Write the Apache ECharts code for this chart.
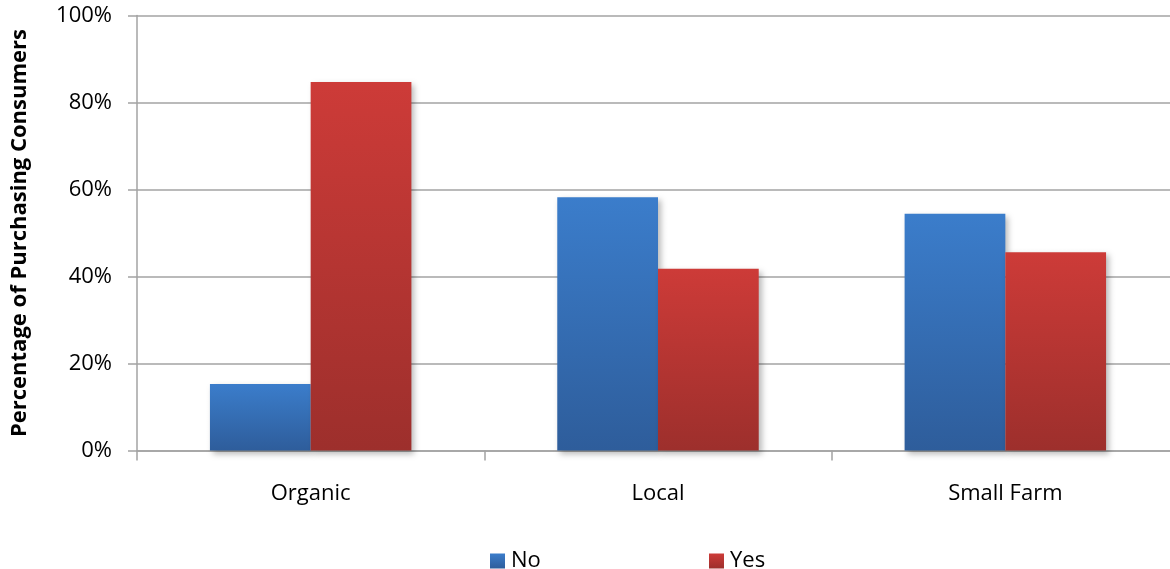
<!DOCTYPE html>
<html>
<head>
<meta charset="utf-8">
<script src="https://cdn.jsdelivr.net/npm/echarts@6/dist/echarts.min.js"></script>
<style>
  html, body { margin: 0; padding: 0; background: #fff; }
  #chart { width: 1170px; height: 569px; }
</style>
</head>
<body>
<div id="chart"></div>
<script>
// Share of purchasing consumers by label type
const categories = ['Organic', 'Local', 'Small Farm'];
const noValues = [15.3, 58.2, 54.4];
const yesValues = [84.7, 41.8, 45.6];
const seriesNames = ['No', 'Yes'];

const FONT = '"Open Sans", sans-serif';
const GRID_GREY = '#a3a3a3';

function vGrad(top, bottom) {
  return new echarts.graphic.LinearGradient(0, 0, 0, 1, [
    { offset: 0, color: top },
    { offset: 1, color: bottom }
  ]);
}

const barShadow = {
  shadowBlur: 6,
  shadowOffsetX: 3,
  shadowOffsetY: 3,
  shadowColor: 'rgba(0,0,0,0.28)'
};

const legendText = { fontFamily: FONT, fontSize: 22, color: '#000', padding: [0, 0, 0, 1] };

const chart = echarts.init(document.getElementById('chart'), null, { renderer: 'canvas' });

chart.setOption({
  animation: false,
  backgroundColor: '#fff',
  textStyle: { fontFamily: FONT },
  // plot area runs a little past the right edge of the canvas
  grid: { left: 137, width: 1042, top: 15.5, height: 435, outerBoundsMode: 'none', containLabel: false },
  legend: [
    {
      data: [seriesNames[0]],
      left: 490, top: 550, padding: 0,
      itemWidth: 15, itemHeight: 15, itemGap: 6,
      icon: 'rect',
      textStyle: legendText
    },
    {
      data: [seriesNames[1]],
      left: 709, top: 550, padding: 0,
      itemWidth: 15, itemHeight: 15, itemGap: 6,
      icon: 'rect',
      textStyle: legendText
    }
  ],
  xAxis: {
    type: 'category',
    data: categories,
    axisLine: { lineStyle: { color: GRID_GREY, width: 1.5 } },
    axisTick: { show: true, length: 10, lineStyle: { color: GRID_GREY, width: 1.5 } },
    axisLabel: { fontFamily: FONT, fontSize: 22, color: '#000', margin: 32 }
  },
  yAxis: {
    type: 'value',
    min: 0, max: 100, interval: 20,
    name: 'Percentage of Purchasing Consumers',
    nameLocation: 'middle',
    nameRotate: 90,
    nameGap: 106,
    nameTextStyle: { fontFamily: FONT, fontSize: 22, fontWeight: 'bold', color: '#000' },
    axisLine: { show: true, lineStyle: { color: GRID_GREY, width: 1.5 } },
    axisTick: { show: true, length: 9, lineStyle: { color: GRID_GREY, width: 1.5 } },
    splitLine: { lineStyle: { color: GRID_GREY, width: 1.5 } },
    axisLabel: { fontFamily: FONT, fontSize: 22, color: '#000', margin: 25, formatter: '{value}%' }
  },
  series: [
    {
      name: seriesNames[0],
      type: 'bar',
      data: noValues,
      barGap: '0%',
      barCategoryGap: '42%',
      itemStyle: Object.assign({ color: vGrad('#3b7dcb', '#2e5d9b') }, barShadow)
    },
    {
      name: seriesNames[1],
      type: 'bar',
      data: yesValues,
      itemStyle: Object.assign({ color: vGrad('#cd3b38', '#9d2f2c') }, barShadow)
    }
  ]
});
</script>
</body>
</html>
